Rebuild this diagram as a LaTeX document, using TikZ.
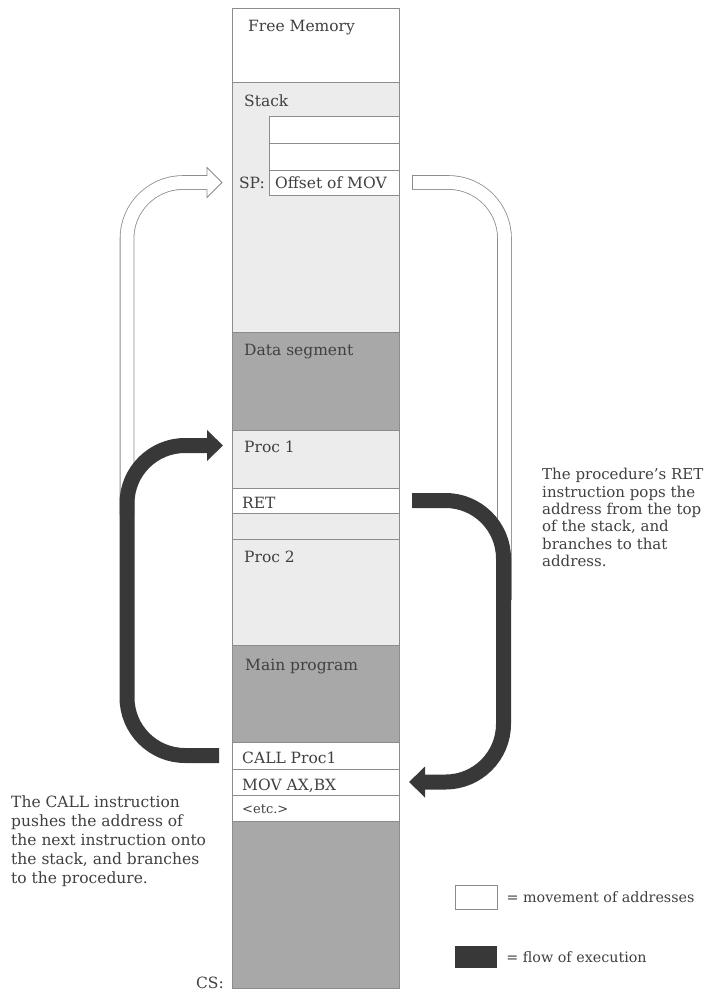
\documentclass[tikz,border=0pt]{standalone}
\usepackage{fontspec}
\setmainfont{DejaVu Serif}
\usetikzlibrary{arrows.meta,positioning}
\definecolor{linegray}{gray}{0.55}
\definecolor{lightfill}{gray}{0.925}
\definecolor{darkfill}{gray}{0.66}
\definecolor{flowgray}{gray}{0.22}
\definecolor{textgray}{gray}{0.25}
\begin{document}
\begin{tikzpicture}[
			x=1pt, y=-1pt,
			seg/.style={
				draw=linegray, line width=0.9pt,
				minimum width=167pt, inner sep=0pt, outer sep=0pt,
				anchor=north west
			},
			cell/.style={
				draw=linegray, line width=0.9pt, fill=white,
				minimum width=130pt, inner sep=0pt, outer sep=0pt,
				anchor=north west
			},
			label node/.style={font=\fontsize{15.5}{19}\selectfont, text=textgray, inner sep=0pt},
			small node/.style={label node, font=\fontsize{13}{16}\selectfont},
			key node/.style={label node, font=\fontsize{14.3}{16}\selectfont},
			note/.style={label node, align=left, anchor=north west},
			flow/.style={draw=flowgray, line width=15pt, rounded corners=58pt,
				-{Triangle[length=16pt,width=30pt]}},
			addr/.style={draw=linegray, line width=0.8pt, double=white,
				double distance=13pt, rounded corners=56pt}
			]
			\useasboundingbox (0,0) rectangle (708,990);
			
			\node[seg, fill=white, minimum height=74pt] (free) at (232,8) {};
			\node[seg, fill=lightfill, minimum height=250pt] (stack) at (232,82) {};
			\node[seg, fill=darkfill, minimum height=98pt] (data) at (232,332) {};
			\node[seg, fill=lightfill, minimum height=58pt] (proc1) at (232,430) {};
			\node[seg, fill=white, minimum height=25pt] (ret) at (232,488) {};
			\node[seg, fill=lightfill, minimum height=26pt] (gap) at (232,513) {};
			\node[seg, fill=lightfill, minimum height=106pt] (proc2) at (232,539) {};
			\node[seg, fill=darkfill, minimum height=97pt] (main) at (232,645) {};
			\node[seg, fill=white, minimum height=27pt] (call) at (232,742) {};
			\node[seg, fill=white, minimum height=26pt] (mov) at (232,769) {};
			\node[seg, fill=white, minimum height=26pt] (etc) at (232,795) {};
			\node[seg, fill=darkfill, minimum height=167pt] (code) at (232,821) {};
			
			\node[label node, anchor=base west] at ([xshift=16pt,yshift=-24pt]free.north west) {Free Memory};
			\node[label node, anchor=base west] at ([xshift=12pt,yshift=-24pt]stack.north west) {Stack};
			\node[label node, anchor=base west] at ([xshift=12pt,yshift=-23pt]data.north west) {Data segment};
			\node[label node, anchor=base west] at ([xshift=12pt,yshift=-22pt]proc1.north west) {Proc 1};
			\node[label node, anchor=base west] at ([xshift=10pt,yshift=-20pt]ret.north west) {RET};
			\node[label node, anchor=base west] at ([xshift=12pt,yshift=-23pt]proc2.north west) {Proc 2};
			\node[label node, anchor=base west] at ([xshift=13pt,yshift=-25pt]main.north west) {Main program};
			\node[label node, anchor=base west] at ([xshift=10pt,yshift=-21pt]call.north west) {CALL Proc1};
			\node[label node, anchor=base west] at ([xshift=10pt,yshift=-21pt]mov.north west) {MOV AX,BX};
			\node[small node, anchor=base west] at ([xshift=10pt,yshift=-18pt]etc.north west) {<etc.>};
			\node[label node, anchor=base east] at ([xshift=-8pt]code.south west) {CS:};
			
			\node[cell, minimum height=27pt] (cellA) at (269,116) {};
			\node[cell, minimum height=27pt] (cellB) at (269,143) {};
			\node[cell, minimum height=25pt] (sp) at (269,170) {};
			\node[label node, anchor=west] at ([xshift=6pt]sp.west) {Offset of MOV};
			\node[label node, left=4pt of sp] {SP:};
			
			\coordinate (pushtail) at (127,515);
			\coordinate (pushtip) at (222,182.5);
			\coordinate (poptail) at ([xshift=13pt]sp.east);
			\coordinate (popend) at (504.5,600);
			\coordinate (calltail) at ([xshift=-13pt]call.west);
			\coordinate (proc1tip) at ([xshift=-9pt,yshift=-15.5pt]proc1.north west);
			\coordinate (rettail) at ([xshift=13pt]ret.east);
			\coordinate (movtip) at ([xshift=10pt]mov.east);
			
			\draw[addr] (pushtail) |- ([xshift=-15pt]pushtip);
			\filldraw[fill=white, draw=linegray, line width=0.8pt] (pushtip) -- ++(-15,-15) -- ++(0,30) -- cycle;
			\draw[white, line width=13pt] ([xshift=-16pt]pushtip) -- ([xshift=-13pt]pushtip);
			
			\draw[addr] (poptail) -| (popend);
			\draw[linegray, line width=0.8pt] ([yshift=7.3pt]poptail) -- ([yshift=-7.3pt]poptail);
			
			\draw[flow] (calltail) -- ++(-92,0) |- (proc1tip);
			\draw[flow] (rettail) -- ++(91.5,0) |- (movtip);
			
			\node[note] at (11,796) {The CALL instruction\\pushes the address of\\the next instruction onto\\the stack, and branches\\to the procedure.};
			\node[note, font=\fontsize{15}{17.4}\selectfont] at (542,468) {The procedure's RET\\instruction pops the\\address from the top\\of the stack, and\\branches to that\\address.};
			
			\node[draw=linegray, line width=0.9pt, minimum width=42pt, minimum height=24pt, inner sep=0pt] (keyaddr) at (476,897) {};
			\node[key node, right=9pt of keyaddr] {= movement of addresses};
			\node[fill=flowgray, minimum width=42pt, minimum height=22pt, inner sep=0pt] (keyflow) at (476,957) {};
			\node[key node, right=9pt of keyflow] {= flow of execution};
			
		\end{tikzpicture}
\end{document}
